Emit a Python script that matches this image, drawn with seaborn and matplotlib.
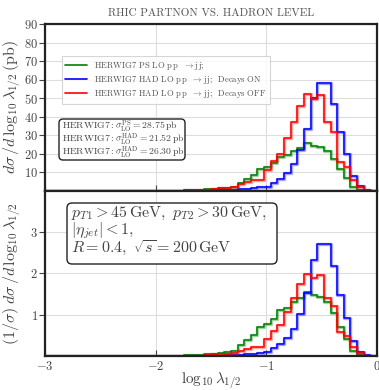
import numpy as np
import pandas as pd
import matplotlib
matplotlib.use("Agg")
import matplotlib.pyplot as plt
import seaborn as sns
from matplotlib.patches import FancyBboxPatch
from matplotlib.transforms import IdentityTransform

# ---------------- data ----------------
# 50 bins of width 0.06 on [-3, 0]; values listed for bins starting at -1.74
first_edge = -1.74
green_top = [0.3, 0.4, 0.5, 0.7, 1.0, 1.3, 1.6, 2.1, 4.2, 6.2, 8.4, 11.5, 12.9, 14.7,
             18.3, 19.2, 21.5, 23.0, 25.5, 24.3, 23.3, 21.5, 17.0, 11.5, 6.5, 1.8, 0.3, 0.0, 0.0]
blue_top = [0.0, 0.0, 0.0, 0.0, 0.1, 0.2, 0.3, 0.4, 0.6, 0.9, 1.2, 1.7, 1.9, 4.2,
            6.2, 9.3, 14.2, 21.9, 33.0, 50.0, 58.3, 58.3, 46.6, 31.8, 19.5, 7.8, 2.2, 0.4, 0.0]
red_top = [0.2, 0.3, 0.3, 0.4, 1.0, 1.3, 1.5, 2.0, 3.5, 4.8, 5.9, 5.9, 11.1, 16.0,
           19.6, 28.2, 37.2, 45.5, 52.2, 49.5, 51.5, 37.2, 31.8, 15.5, 12.5, 5.7, 2.0, 0.3, 0.0]

green_bot = [0.018, 0.024, 0.03, 0.043, 0.06, 0.08, 0.10, 0.13, 0.26, 0.38, 0.51, 0.70, 0.78, 0.89,
             1.11, 1.17, 1.31, 1.40, 1.55, 1.48, 1.42, 1.31, 1.03, 0.70, 0.40, 0.11, 0.018, 0.0, 0.0]
blue_bot = [0.0, 0.0, 0.0, 0.0, 0.005, 0.009, 0.014, 0.019, 0.028, 0.042, 0.056, 0.079, 0.088, 0.195,
            0.29, 0.43, 0.66, 1.02, 1.53, 2.32, 2.71, 2.71, 2.17, 1.48, 0.91, 0.36, 0.10, 0.019, 0.0]
red_bot = [0.008, 0.011, 0.011, 0.015, 0.038, 0.049, 0.057, 0.076, 0.13, 0.18, 0.22, 0.22, 0.42, 0.61,
           0.75, 1.07, 1.41, 1.73, 1.98, 1.88, 1.96, 1.41, 1.21, 0.59, 0.48, 0.22, 0.076, 0.011, 0.0]

labels = [r"HERWIG7 PS LO $\mathrm{p\,p}\ \ \rightarrow \mathrm{j\,j}$;",
          r"HERWIG7 HAD LO $\mathrm{p\,p}\ \ \rightarrow \mathrm{j\,j}$;  Decays ON",
          r"HERWIG7 HAD LO $\mathrm{p\,p}\ \ \rightarrow \mathrm{j\,j}$;  Decays OFF"]
colors = ["green", "blue", "red"]
sigma_lines = [r"$\mathrm{HERWIG7}: \sigma_{\mathrm{LO}}^{\mathrm{PS}} = 28.75\,\mathrm{pb}$",
               r"$\mathrm{HERWIG7}: \sigma_{\mathrm{LO}}^{\mathrm{HAD}} = 21.52\,\mathrm{pb}$",
               r"$\mathrm{HERWIG7}: \sigma_{\mathrm{LO}}^{\mathrm{HAD}} = 26.30\,\mathrm{pb}$"]
cuts_text = (r"$p_{T1} > 45\,\mathrm{GeV},\ p_{T2} > 30\,\mathrm{GeV},$" "\n"
             r"$|\eta_{jet}| < 1,$" "\n"
             r"$R = 0.4,\ \sqrt{s} = 200\,\mathrm{GeV}$")
title = "RHIC PARTNON VS. HADRON LEVEL"
top_yticks = [10, 20, 30, 40, 50, 60, 70, 80, 90]
bot_yticks = [1, 2, 3]
xticks = [-3, -2, -1, 0]

# ---------------- build table ----------------
width = 0.06
n_bins = 50
centers = -3 + width * (np.arange(n_bins) + 0.5)
n_lead = int(round((first_edge + 3) / width))


def full(vals):
    out = np.zeros(n_bins)
    out[n_lead:n_lead + len(vals)] = vals[:n_bins - n_lead]
    return out


rows = []
for lab, gt, gb in zip(labels, [green_top, blue_top, red_top], [green_bot, blue_bot, red_bot]):
    for c, vt, vb in zip(centers, full(gt), full(gb)):
        rows.append(dict(x=c, series=lab, top=vt, bot=vb))
df = pd.DataFrame(rows)

# ---------------- style ----------------
sns.set_theme(style="whitegrid")
plt.rcParams.update({
    "font.family": ["cmr10", "DejaVu Serif"],
    "mathtext.fontset": "cm",
    "axes.formatter.use_mathtext": True,
    "axes.edgecolor": "#222222",
    "axes.linewidth": 1.6,
    "grid.color": "#dddddd",
    "grid.linewidth": 0.8,
    "text.color": "#444444",
    "xtick.color": "#444444",
    "ytick.color": "#444444",
})

W, H = 379, 390
fig = plt.figure(figsize=(W / 100, H / 100), dpi=100)
ax1 = fig.add_axes([45 / W, 1 - 190.5 / H, 332 / W, 166.5 / H])
ax2 = fig.add_axes([45 / W, 1 - 356 / H, 332 / W, 165.5 / H], sharex=ax1)

palette = dict(zip(labels, colors))
for ax, col in [(ax1, "top"), (ax2, "bot")]:
    for lab in labels:
        sub = df[df.series == lab]
        # soft halo + crisp line
        sns.histplot(data=sub, x="x", weights=col, bins=n_bins, binrange=(-3, 0),
                     element="step", fill=False,
                     color=palette[lab], linewidth=2.4, alpha=0.35, ax=ax)
        sns.histplot(data=sub, x="x", weights=col, bins=n_bins, binrange=(-3, 0),
                     element="step", fill=False,
                     color=palette[lab], linewidth=1.1, ax=ax)
    ax.set_xlim(-3, 0)
    ax.set_xticks(xticks)
    ax.grid(True)
    ax.tick_params(axis="y", direction="out", length=4, width=0.8, colors="#444444",
                   labelsize=9, pad=1, left=True)
    ax.tick_params(axis="x", direction="in", length=4, width=0.8, colors="#444444",
                   labelsize=9, bottom=True, pad=3)
    for s in ax.spines.values():
        s.set_visible(True)
        s.set_color("#222222")
        s.set_linewidth(1.6)

ax1.set_ylim(0, 90)
ax1.set_yticks(top_yticks)
ax2.set_ylim(0, 4)
ax2.set_yticks(bot_yticks)
ax1.tick_params(axis="x", labelbottom=False)
ax1.set_xlabel("")
ax1.set_ylabel(r"$d\sigma\,/d\,\log_{10}\lambda_{1/2}\,(\mathrm{pb})$", fontsize=11.5,
               color="#444444")
ax2.set_ylabel(r"$(1/\sigma)\;d\sigma\,/d\,\log_{10}\lambda_{1/2}$", fontsize=11.5,
               color="#444444")
ax1.yaxis.set_label_coords(-0.066, 0.5)
ax2.yaxis.set_label_coords(-0.066, 0.5)
ax2.set_xlabel(r"$\log_{10}\lambda_{1/2}$", fontsize=11, color="#444444", labelpad=-2)
ax1.set_title(title, fontsize=8, color="#555555", pad=6)

handles = [plt.Line2D([], [], color=c, lw=1.2) for c in colors]
leg = ax1.legend(handles, labels, loc="upper left", bbox_to_anchor=(0.05, 0.805),
                 fontsize=6.2, frameon=True, fancybox=False, handlelength=2.6,
                 borderpad=0.4, labelspacing=0.25, handletextpad=0.8, borderaxespad=0.0)
leg.get_frame().set_edgecolor("#cccccc")
leg.get_frame().set_linewidth(0.8)
for t in leg.get_texts():
    t.set_color("#555555")

# cross-section box: three lines inside a rounded frame (pixel layout)
box1 = FancyBboxPatch((59, H - 160), 126, 41, boxstyle="round,pad=0,rounding_size=4",
                      transform=IdentityTransform(), fc="white", ec="#222222", lw=1.0,
                      zorder=5)
ax1.add_artist(box1)
for i, line in enumerate(sigma_lines):
    ax1.text(62, H - (126.5 + 13.2 * i), line, transform=IdentityTransform(), fontsize=7.0,
             va="center", ha="left", color="#444444", zorder=6)

# cuts box
box2 = FancyBboxPatch((67, H - 264), 210, 61, boxstyle="round,pad=0,rounding_size=5",
                      transform=IdentityTransform(), fc="white", ec="#222222", lw=1.0,
                      zorder=5)
ax2.add_artist(box2)
ax2.text(71, H - 205, cuts_text, transform=IdentityTransform(), fontsize=11.5,
         va="top", ha="left", color="#444444", linespacing=0.85, zorder=6)

fig.savefig("out.png", dpi=100)
